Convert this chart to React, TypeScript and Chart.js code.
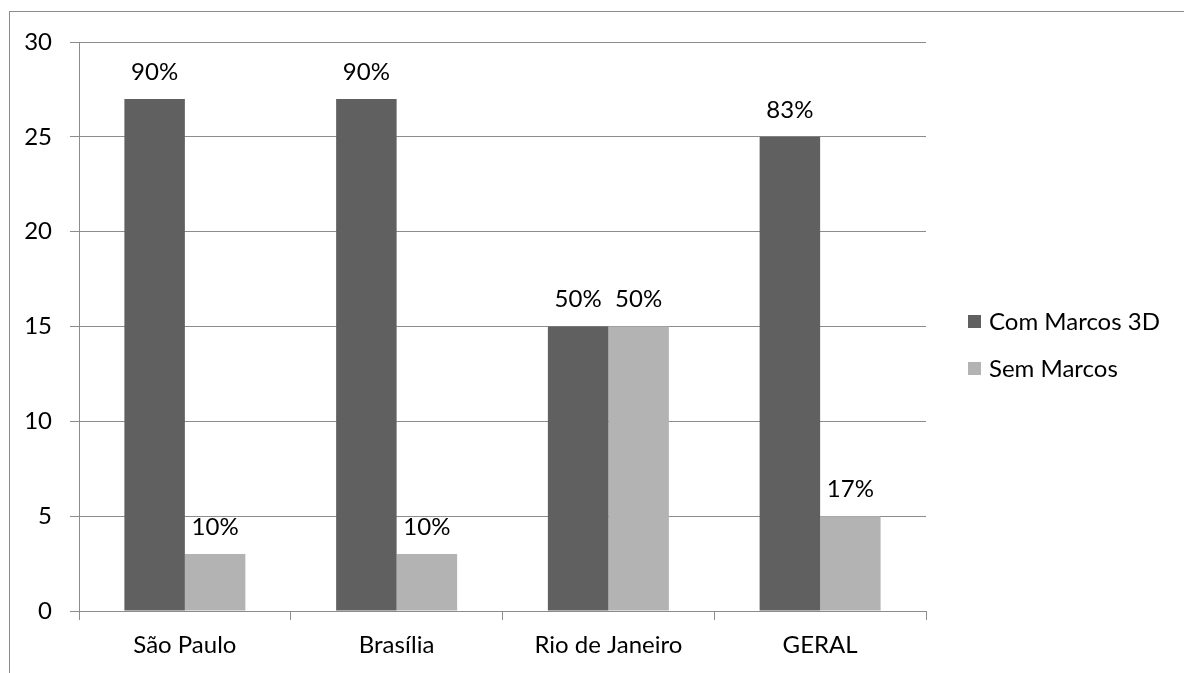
import React, { useEffect, useRef } from "react";
import { Chart, registerables } from "chart.js";

Chart.register(...registerables);

const categories = ["São Paulo", "Brasília", "Rio de Janeiro", "GERAL"];
const seriesNames = ["Com Marcos 3D", "Sem Marcos"];
const comMarcos = [27, 27, 15, 25];
const semMarcos = [3, 3, 15, 5];
const comLabels = ["90%", "90%", "50%", "83%"];
const semLabels = ["10%", "10%", "50%", "17%"];
const colors = ["#606060", "#b3b3b3"];

const FONT = "Lato, 'Open Sans', sans-serif";
const FS = 24;

const borderPlugin = {
  id: "outerBorder",
  beforeDraw(chart: any) {
    const ctx = chart.ctx;
    ctx.save();
    ctx.fillStyle = "#ffffff";
    ctx.fillRect(0, 0, chart.width, chart.height);
    ctx.strokeStyle = "#8c8c8c";
    ctx.lineWidth = 1;
    ctx.strokeRect(9.5, 11.5, 2000, 2000);
    ctx.restore();
  },
};

const valueLabelPlugin = {
  id: "valueLabels",
  afterDatasetsDraw(chart: any) {
    const ctx = chart.ctx;
    const allLabels = [comLabels, semLabels];
    ctx.save();
    ctx.font = `${FS}px ${FONT}`;
    ctx.fillStyle = "#000000";
    ctx.textAlign = "center";
    ctx.textBaseline = "middle";
    chart.data.datasets.forEach((ds: any, di: number) => {
      const meta = chart.getDatasetMeta(di);
      meta.data.forEach((bar: any, i: number) => {
        ctx.fillText(allLabels[di][i], bar.x, bar.y - 27);
      });
    });
    ctx.restore();
  },
};

const legendPlugin = {
  id: "customLegend",
  afterDraw(chart: any) {
    const ctx = chart.ctx;
    ctx.save();
    ctx.font = `${FS}px ${FONT}`;
    ctx.textBaseline = "middle";
    ctx.textAlign = "left";
    const ys = [321.5, 368.5];
    seriesNames.forEach((name, i) => {
      ctx.fillStyle = colors[i];
      ctx.fillRect(968, ys[i] - 6.5, 13, 13);
      ctx.fillStyle = "#000000";
      ctx.fillText(name, 989, ys[i] + 1);
    });
    ctx.restore();
  },
};

export default function App() {
  const ref = useRef<HTMLCanvasElement>(null);
  useEffect(() => {
    if (!ref.current) return;
    const chart = new Chart(ref.current, {
      type: "bar",
      data: {
        labels: categories,
        datasets: [
          { label: seriesNames[0], data: comMarcos, backgroundColor: colors[0], borderWidth: 0 },
          { label: seriesNames[1], data: semMarcos, backgroundColor: colors[1], borderWidth: 0 },
        ],
      },
      options: {
        responsive: false,
        animation: false,
        devicePixelRatio: 1,
        layout: { padding: { top: 42, right: 258, left: 0, bottom: 0 } },
        datasets: { bar: { categoryPercentage: 0.5714, barPercentage: 1 } },
        plugins: { legend: { display: false }, tooltip: { enabled: false } },
        scales: {
          x: {
            offset: true,
            grid: {
              offset: true,
              drawOnChartArea: false,
              drawTicks: true,
              tickLength: 9,
              color: "#8c8c8c",
            },
            border: { color: "#8c8c8c" },
            ticks: { font: { size: FS, family: FONT }, color: "#000000", padding: 11 },
            afterFit(scale: any) {
              scale.height = 62;
            },
          },
          y: {
            min: 0,
            max: 30,
            ticks: { stepSize: 5, font: { size: FS, family: FONT }, color: "#000000", padding: 18 },
            grid: { color: "#8c8c8c", tickLength: 9 },
            border: { color: "#8c8c8c" },
            afterFit(scale: any) {
              scale.width = 79;
            },
          },
        },
      },
      plugins: [borderPlugin, valueLabelPlugin, legendPlugin],
    });
    return () => chart.destroy();
  }, []);
  return (
    <div style={{ position: "absolute", left: 0, top: 0, width: 1184, height: 673 }}>
      <canvas ref={ref} width={1184} height={673} />
    </div>
  );
}
